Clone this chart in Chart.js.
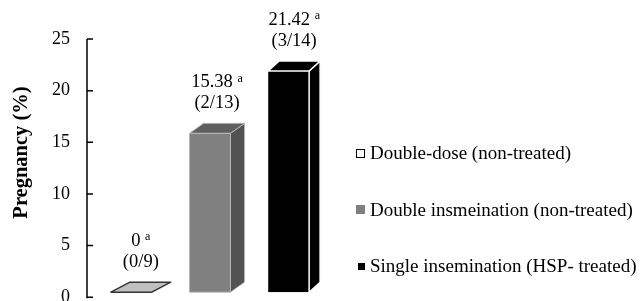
<!DOCTYPE html>
<html>
<head>
<meta charset="utf-8">
<script src="https://cdn.jsdelivr.net/npm/chart.js@4.4.1/dist/chart.umd.min.js"></script>
<style>
  html, body { margin: 0; padding: 0; background: #fff; overflow: hidden; }
  #wrap { position: relative; width: 644px; height: 301px; overflow: hidden; }
  #chart { position: absolute; left: 0; top: 0; }
  #legend { position: absolute; left: 354px; top: 0; font-family: "Liberation Serif", serif; font-size: 19px; color: #000; }
  #legend .item { position: absolute; left: 0; white-space: nowrap; line-height: 20px; height: 20px; }
  #legend .box { position: absolute; box-sizing: border-box; }
  #legend .txt { position: absolute; left: 16px; top: 0; }
</style>
</head>
<body>
<div id="wrap">
  <canvas id="chart" width="644" height="330"></canvas>
  <div id="legend"></div>
</div>
<script>
// data
const groups = ['Double-dose (non-treated)', 'Double insmeination (non-treated)', 'Single insemination (HSP- treated)'];
const pregnancy = [0, 15.38, 21.42];
const pregnant = [0, 2, 3];
const inseminated = [9, 13, 14];
const letters = ['a', 'a', 'a'];
const yTicks = [0, 5, 10, 15, 20, 25];

// look
const frontColors = ['#c0c0c0', '#808080', '#000000'];
const topColors = ['#c0c0c0', '#5e5e5e', '#000000'];
const sideColors = ['#9a9a9a', '#525252', '#000000'];
const edgeColors = ['#333333', '#b4b4b4', '#ffffff'];
const depthX = [19, 14, 11];
const depthY = 10;
const floorLift = 5;
const serif = '"Liberation Serif", "Times New Roman", serif';

let ctx = document.getElementById('chart').getContext('2d');

const bars3d = {
    id: 'bars3d',
    beforeDatasetsDraw(chart) {
        chart.ctx.save();
        chart.ctx.translate(0, -floorLift);
    },
    afterDatasetsDraw(chart) {
        const c = chart.ctx;
        chart.getDatasetMeta(0).data.forEach((bar, i) => {
            const p = bar.getProps(['x', 'y', 'base', 'width'], true);
            const l = p.x - p.width / 2, r = p.x + p.width / 2;
            const dx = depthX[i], dy = depthY;
            c.lineJoin = 'round';
            c.lineWidth = i === 1 ? 1 : 1.5;
            c.strokeStyle = edgeColors[i];
            // side face
            if (p.base - p.y > 0.5) {
                c.beginPath();
                c.moveTo(r, p.y);
                c.lineTo(r + dx, p.y - dy);
                c.lineTo(r + dx, p.base - dy);
                c.lineTo(r, p.base);
                c.closePath();
                c.fillStyle = sideColors[i];
                c.fill();
                c.stroke();
            }
            // top face
            c.beginPath();
            c.moveTo(l, p.y);
            c.lineTo(l + dx, p.y - dy);
            c.lineTo(r + dx, p.y - dy);
            c.lineTo(r, p.y);
            c.closePath();
            c.fillStyle = topColors[i];
            c.fill();
            c.stroke();
            if (i === 1) {
                c.strokeRect(l, p.y, p.width, p.base - p.y);
            }
        });
        c.restore();

        // value labels above the bars
        chart.getDatasetMeta(0).data.forEach((bar, i) => {
            const p = bar.getProps(['x', 'y'], true);
            const cx = p.x + depthX[i] / 2;
            const topY = p.y - floorLift - depthY;
            const main = String(pregnancy[i]);
            c.save();
            c.fillStyle = '#000';
            c.textBaseline = 'middle';
            c.font = '18.5px ' + serif;
            const wMain = c.measureText(main + ' ').width;
            c.font = '12px ' + serif;
            const wSup = c.measureText(letters[i]).width;
            const x0 = cx - (wMain + wSup) / 2;
            c.textAlign = 'left';
            c.font = '18.5px ' + serif;
            c.fillText(main, x0, topY - 41);
            c.font = '12px ' + serif;
            c.fillText(letters[i], x0 + wMain, topY - 45);
            c.font = '18.5px ' + serif;
            c.textAlign = 'center';
            c.fillText('(' + pregnant[i] + '/' + inseminated[i] + ')', cx, topY - 20);
            c.restore();
        });
    }
};

const axisDecor = {
    id: 'axisDecor',
    afterDraw(chart) {
        const c = chart.ctx;
        const y = chart.scales.y;
        const ax = chart.chartArea.left - 5;
        c.save();
        c.strokeStyle = '#000';
        c.lineWidth = 1.5;
        c.beginPath();
        c.moveTo(ax, y.getPixelForValue(25));
        c.lineTo(ax, y.getPixelForValue(0) + 1);
        yTicks.forEach(v => {
            const ty = y.getPixelForValue(v);
            c.moveTo(ax, ty);
            c.lineTo(ax + 6, ty);
        });
        c.stroke();
        // axis title
        c.translate(22, 152.5);
        c.rotate(-Math.PI / 2);
        c.font = 'bold 20.5px ' + serif;
        c.fillStyle = '#000';
        c.textAlign = 'center';
        c.textBaseline = 'middle';
        c.fillText('Pregnancy (%)', 0, 0);
        c.restore();
    }
};

let myChart = new Chart(ctx, {
    type: 'bar',
    data: {
        labels: groups,
        datasets: [{
            data: pregnancy,
            backgroundColor: frontColors,
            borderWidth: 0,
            barPercentage: 0.52,
            categoryPercentage: 1
        }]
    },
    options: {
        responsive: false,
        animation: false,
        layout: { padding: { top: 39, bottom: 11.2, left: 0, right: 316 } },
        scales: {
            x: { display: false, offset: true },
            y: {
                min: 0,
                max: 25,
                afterFit: (scale) => { scale.width = 92; },
                afterBuildTicks: (scale) => { scale.ticks = yTicks.map(v => ({ value: v })); },
                grid: { display: false, drawTicks: false },
                border: { display: false },
                ticks: {
                    color: '#000',
                    padding: 22,
                    font: { family: serif, size: 18 }
                }
            }
        },
        plugins: {
            legend: { display: false },
            tooltip: { enabled: false }
        }
    },
    plugins: [bars3d, axisDecor]
});

// legend built from the same data
const legendTops = [143, 199.5, 256];
const boxStyles = [
    { size: 9, bg: '#fff', border: '1.5px solid #000', left: 2 },
    { size: 9, bg: '#808080', border: 'none', left: 2 },
    { size: 7, bg: '#000', border: 'none', left: 4 }
];
const legendEl = document.getElementById('legend');
groups.forEach((g, i) => {
    const item = document.createElement('div');
    item.className = 'item';
    item.style.top = legendTops[i] + 'px';
    const box = document.createElement('span');
    box.className = 'box';
    const b = boxStyles[i];
    box.style.width = b.size + 'px';
    box.style.height = b.size + 'px';
    box.style.background = b.bg;
    box.style.border = b.border;
    box.style.left = b.left + 'px';
    box.style.top = (10 - b.size / 2) + 'px';
    const txt = document.createElement('span');
    txt.className = 'txt';
    txt.textContent = g;
    item.appendChild(box);
    item.appendChild(txt);
    legendEl.appendChild(item);
});
</script>
</body>
</html>
